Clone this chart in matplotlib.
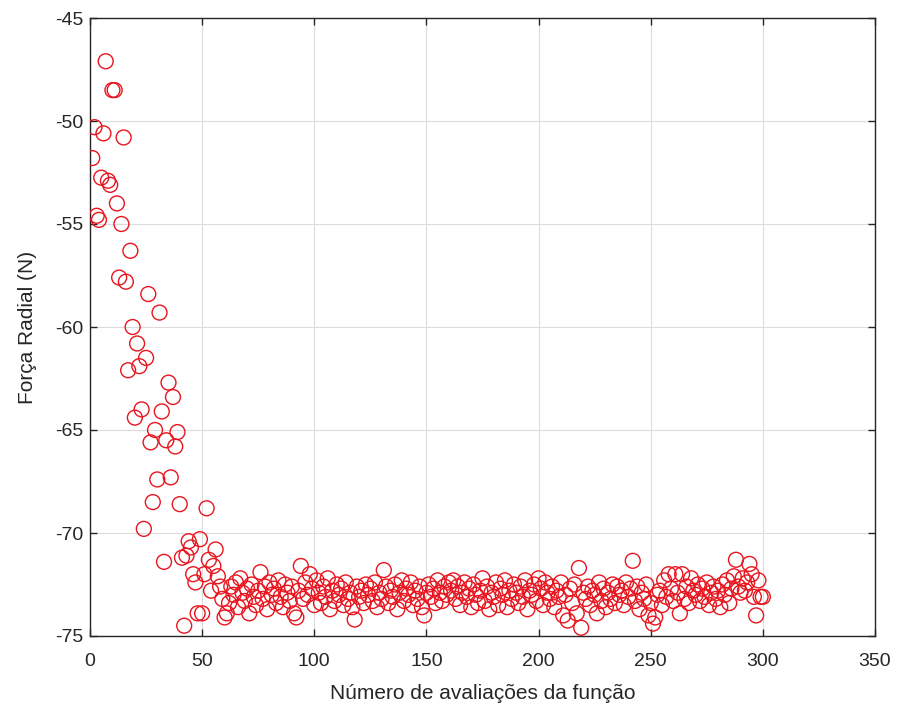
import matplotlib
matplotlib.use("Agg")
import matplotlib.pyplot as plt

plt.rcParams['font.family'] = ['Liberation Sans', 'DejaVu Sans']
plt.rcParams['axes.unicode_minus'] = False

# Evaluation number (1..300) and radial force values
evals = list(range(1, 301))
force_early = [
    -51.8, -50.3, -54.6, -54.8, -52.75, -50.6, -47.1, -52.9, -53.1, -48.5,
    -48.5, -54.0, -57.6, -55.0, -50.8, -57.8, -62.1, -56.3, -60.0, -64.4,
    -60.8, -61.9, -64.0, -69.8, -61.5, -58.4, -65.6, -68.5, -65.0, -67.4,
    -59.3, -64.1, -71.4, -65.5, -62.7, -67.3, -63.4, -65.8, -65.1, -68.6,
    -71.2, -74.5, -71.1, -70.4, -70.7, -72.0, -72.4, -73.9, -70.3, -73.9,
    -72.0, -68.8, -71.3, -72.8, -71.6, -70.8, -72.1, -72.6, -73.2, -74.1,
]
force_plateau = [
    -73.9, -73.4, -72.6, -73.0, -72.4, -73.6, -72.2, -72.9, -73.3, -72.7,
    -73.9, -72.5, -73.1, -73.5, -72.8, -71.9, -73.2, -72.6, -73.7, -72.4,
    -73.0, -72.7, -73.4, -72.3, -73.1, -73.6, -72.5, -72.9, -73.3, -72.6,
    -73.9, -74.1, -72.8, -71.6, -73.2, -72.4, -73.0, -72.0, -72.7, -73.5,
    -72.3, -72.9, -73.4, -72.6, -73.1, -72.2, -73.7, -72.8, -73.3, -72.5,
    -73.0, -72.7, -73.5, -72.4, -73.2, -72.9, -73.6, -74.2, -72.6, -73.1,
    -72.8, -73.4, -72.5, -73.0, -72.7, -73.3, -72.4, -73.6, -72.9, -73.2,
    -71.8, -72.6, -73.4, -72.8, -73.1, -72.5, -73.7, -72.9, -72.3, -73.3,
    -72.7, -73.0, -72.4, -73.5, -72.8, -73.2, -72.6, -73.6, -74.0, -72.9,
    -72.5, -73.1, -72.7, -73.4, -72.3, -72.9, -73.3, -72.6, -73.0, -72.4,
    -72.8, -72.3, -73.2, -72.6, -73.5, -72.9, -72.4, -73.1, -72.7, -73.6,
    -72.5, -73.0, -73.4, -72.8, -72.2, -73.3, -72.6, -73.7, -72.9, -73.1,
    -72.4, -73.5, -72.7, -73.0, -72.3, -73.6, -72.8, -73.2, -72.5, -72.9,
    -73.4, -72.6, -73.1, -72.3, -73.7, -72.8, -73.0, -72.5, -73.3, -72.2,
    -72.7, -73.5, -72.4, -72.9, -73.2, -72.6, -73.6, -72.8, -73.1, -72.4,
    -74.0, -73.0, -74.25, -72.7, -73.4, -72.5, -73.9, -71.7, -74.6, -72.9,
    -73.2, -72.6, -73.5, -72.8, -73.0, -73.9, -72.4, -73.3, -72.7, -73.6,
    -72.9, -73.2, -72.5, -73.4, -72.6, -73.0, -72.8, -73.5, -72.4, -73.1,
    -72.7, -71.35, -73.3, -72.6, -73.7, -72.9, -73.2, -72.5, -74.0, -73.4,
    -74.4, -74.1, -73.0, -72.8, -73.5, -72.3, -73.1, -72.0, -72.7, -73.3,
    -72.0, -72.9, -73.9, -72.0, -73.2, -72.6, -73.4, -72.2, -72.8, -73.0,
    -72.5, -73.3, -72.7, -73.1, -72.4, -73.5, -72.9, -72.6, -73.2, -72.8,
    -73.6, -72.5, -73.0, -72.3, -73.4, -72.7, -72.1, -71.3, -72.6, -72.9,
    -72.2, -72.8, -72.4, -71.5, -72.0, -73.1, -74.0, -72.3, -73.1, -73.1,
]
force = force_early + force_plateau

xticks = [0, 50, 100, 150, 200, 250, 300, 350]
yticks = [-75, -70, -65, -60, -55, -50, -45]

fig = plt.figure(figsize=(8.98, 7.2), dpi=100)
ax = fig.add_axes([90 / 898, 1 - 636 / 720, 785 / 898, 618 / 720])

ax.scatter(evals, force, s=115, facecolors='none', edgecolors='#e8141e',
           linewidths=1.0, zorder=3)

ax.set_xlim(0, 350)
ax.set_ylim(-75, -45)
ax.set_xticks(xticks)
ax.set_yticks(yticks)
ax.grid(True, color='#dcdcdc', linewidth=0.8, zorder=0)
ax.set_axisbelow(True)

for sp in ax.spines.values():
    sp.set_color('#262626')
    sp.set_linewidth(1.0)

ax.tick_params(direction='in', length=5, width=1, colors='#262626',
               labelsize=14, top=True, right=True)
ax.tick_params(axis='x', pad=12)
ax.tick_params(axis='y', pad=5)

ax.set_xlabel('Número de avaliações da função', fontsize=15, color='#262626', labelpad=10)
ax.set_ylabel('Força Radial (N)', fontsize=15, color='#262626', labelpad=13)

fig.savefig('out.png', dpi=100, facecolor='white')
